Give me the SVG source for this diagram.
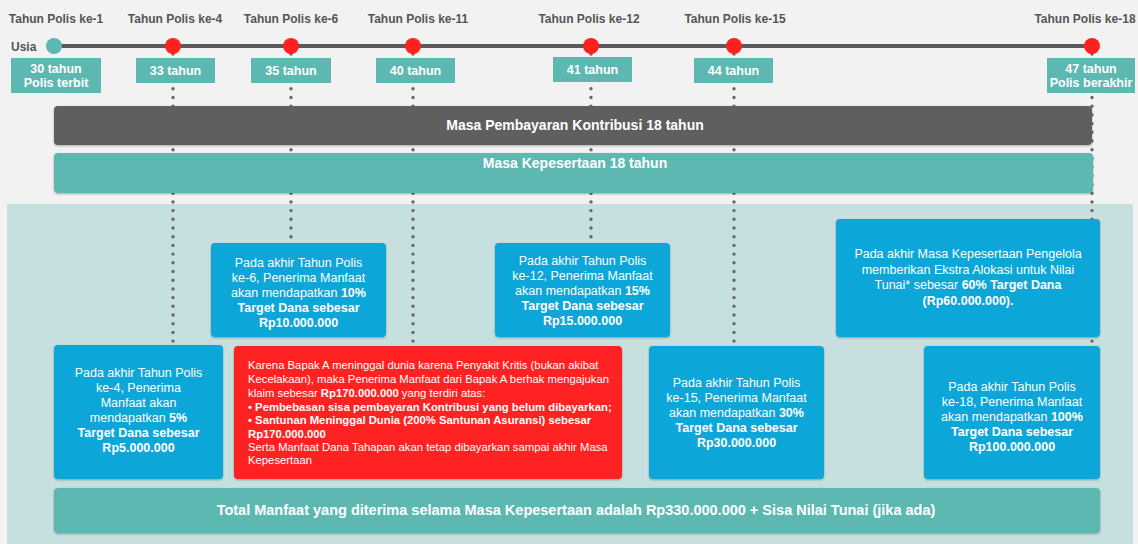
<svg xmlns="http://www.w3.org/2000/svg" width="1138" height="544" viewBox="0 0 1138 544">
<style>
text{font-family:"Liberation Sans",Arial,sans-serif;}
.tl{font-size:12px;font-weight:bold;fill:#555;text-anchor:middle;}
.age{font-size:12.5px;font-weight:bold;fill:#fff;text-anchor:middle;}
.agebox{fill:#5db8b1;}
.bar{font-size:14px;font-weight:bold;fill:#fff;text-anchor:middle;}
.bt{font-size:12.5px;fill:#fff;text-anchor:middle;}
.rt{font-size:11.3px;fill:#fff;}
.b{font-weight:bold;}
.blue{fill:#08a6d8;}
.dot{stroke:#666;stroke-width:3.4;stroke-linecap:round;stroke-dasharray:0 8.7;fill:none;}
</style>
<defs>
<filter id="sh" x="-5%" y="-5%" width="110%" height="115%">
<feDropShadow dx="0" dy="1" stdDeviation="0.8" flood-color="#000" flood-opacity="0.3"/>
</filter>
</defs>
<rect width="1138" height="544" fill="#f2f2f2"/>
<rect x="7" y="204" width="1126" height="340" fill="#c6e0df"/>

<g id="connectors">
<line class="dot" x1="173" y1="54" x2="173" y2="345"/>
<line class="dot" x1="291" y1="54" x2="291" y2="243"/>
<line class="dot" x1="413" y1="54" x2="413" y2="346"/>
<line class="dot" x1="591" y1="54" x2="591" y2="243"/>
<line class="dot" x1="734" y1="54" x2="734" y2="346"/>
<line class="dot" x1="1092" y1="54" x2="1092" y2="346"/>
</g>

<g id="timeline">
<line x1="54" y1="46" x2="1092" y2="46" stroke="#5a5a5a" stroke-width="4"/>
<text x="11" y="51" font-size="12" font-weight="bold" fill="#555">Usia</text>
</g>

<g id="year1"><text class="tl" x="56" y="23">Tahun Polis ke-1</text><circle cx="54" cy="46" r="8" fill="#5db8b1"/>
<rect class="agebox" x="11" y="58" width="90" height="35"/><text class="age" x="56" y="72.5">30 tahun</text><text class="age" x="56" y="86.5">Polis terbit</text></g>
<g id="year4"><text class="tl" x="175" y="23">Tahun Polis ke-4</text><circle cx="173" cy="46" r="8" fill="#ff2020"/>
<rect class="agebox" x="136" y="58" width="79" height="25"/><text class="age" x="175.5" y="75">33 tahun</text></g>
<g id="year6"><text class="tl" x="291" y="23">Tahun Polis ke-6</text><circle cx="291" cy="46" r="8" fill="#ff2020"/>
<rect class="agebox" x="251" y="58" width="80" height="25"/><text class="age" x="291" y="75">35 tahun</text></g>
<g id="year11"><text class="tl" x="418" y="23">Tahun Polis ke-11</text><circle cx="413" cy="46" r="8" fill="#ff2020"/>
<rect class="agebox" x="376" y="58" width="79" height="25"/><text class="age" x="415.5" y="75">40 tahun</text></g>
<g id="year12"><text class="tl" x="589" y="23">Tahun Polis ke-12</text><circle cx="591" cy="46" r="8" fill="#ff2020"/>
<rect class="agebox" x="553" y="57" width="79" height="25"/><text class="age" x="592.5" y="74">41 tahun</text></g>
<g id="year15"><text class="tl" x="735" y="23">Tahun Polis ke-15</text><circle cx="734" cy="46" r="8" fill="#ff2020"/>
<rect class="agebox" x="694" y="58" width="79" height="25"/><text class="age" x="733.5" y="75">44 tahun</text></g>
<g id="year18"><text class="tl" x="1085" y="23">Tahun Polis ke-18</text><circle cx="1092" cy="46" r="8" fill="#ff2020"/>
<rect class="agebox" x="1047" y="58" width="88" height="35"/><text class="age" x="1091" y="72.5">47 tahun</text><text class="age" x="1091" y="86.5">Polis berakhir</text></g>

<g id="bar-pembayaran"><rect x="54" y="106" width="1038" height="39" rx="4" fill="#5f5f5f" filter="url(#sh)"/>
<text class="bar" x="575" y="130">Masa Pembayaran Kontribusi 18 tahun</text></g>
<g id="bar-kepesertaan"><rect x="54" y="153" width="1039" height="40" rx="4" fill="#5db8b1" filter="url(#sh)"/>
<text class="bar" x="575" y="168">Masa Kepesertaan 18 tahun</text></g>

<g id="box-ke6"><rect class="blue" x="211" y="243" width="175" height="94" rx="4" filter="url(#sh)"/>
<text class="bt" x="298.5" y="266.5">Pada akhir Tahun Polis</text>
<text class="bt" x="298.5" y="281.5">ke-6, Penerima Manfaat</text>
<text class="bt" x="298.5" y="296.5">akan mendapatkan <tspan class="b">10%</tspan></text>
<text class="bt b" x="298.5" y="311.5">Target Dana sebesar</text>
<text class="bt b" x="298.5" y="326.5">Rp10.000.000</text></g>

<g id="box-ke12"><rect class="blue" x="495" y="243" width="175" height="94" rx="4" filter="url(#sh)"/>
<text class="bt" x="582.5" y="264.5">Pada akhir Tahun Polis</text>
<text class="bt" x="582.5" y="279.5">ke-12, Penerima Manfaat</text>
<text class="bt" x="582.5" y="294.5">akan mendapatkan <tspan class="b">15%</tspan></text>
<text class="bt b" x="582.5" y="309.5">Target Dana sebesar</text>
<text class="bt b" x="582.5" y="324.5">Rp15.000.000</text></g>

<g id="box-ekstra"><rect class="blue" x="836" y="219" width="264" height="118" rx="4" filter="url(#sh)"/>
<text class="bt" x="968" y="257.5">Pada akhir Masa Kepesertaan Pengelola</text>
<text class="bt" x="968" y="273.5">memberikan Ekstra Alokasi untuk Nilai</text>
<text class="bt" x="968" y="289">Tunai* sebesar <tspan class="b">60% Target Dana</tspan></text>
<text class="bt b" x="968" y="304.5">(Rp60.000.000).</text></g>

<g id="box-ke4"><rect class="blue" x="54" y="345" width="169" height="134" rx="4" filter="url(#sh)"/>
<text class="bt" x="138.5" y="376.5">Pada akhir Tahun Polis</text>
<text class="bt" x="138.5" y="391.5">ke-4, Penerima</text>
<text class="bt" x="138.5" y="406.5">Manfaat akan</text>
<text class="bt" x="138.5" y="421.5">mendapatkan <tspan class="b">5%</tspan></text>
<text class="bt b" x="138.5" y="436.5">Target Dana sebesar</text>
<text class="bt b" x="138.5" y="451.5">Rp5.000.000</text></g>

<g id="box-klaim"><rect x="234" y="346" width="388" height="133" rx="4" fill="#ff2020" filter="url(#sh)"/>
<text class="rt" x="248" y="369">Karena Bapak A meninggal dunia karena Penyakit Kritis (bukan akibat</text>
<text class="rt" x="248" y="383">Kecelakaan), maka Penerima Manfaat dari Bapak A berhak mengajukan</text>
<text class="rt" x="248" y="397">klaim sebesar <tspan class="b">Rp170.000.000</tspan> yang terdiri atas:</text>
<text class="rt b" x="248" y="410.5">• Pembebasan sisa pembayaran Kontribusi yang belum dibayarkan;</text>
<text class="rt b" x="248" y="424">• Santunan Meninggal Dunia (200% Santunan Asuransi) sebesar</text>
<text class="rt b" x="248" y="437.5">Rp170.000.000</text>
<text class="rt" x="248" y="451">Serta Manfaat Dana Tahapan akan tetap dibayarkan sampai akhir Masa</text>
<text class="rt" x="248" y="464">Kepesertaan</text></g>

<g id="box-ke15"><rect class="blue" x="649" y="346" width="175" height="133" rx="4" filter="url(#sh)"/>
<text class="bt" x="736.5" y="386.5">Pada akhir Tahun Polis</text>
<text class="bt" x="736.5" y="401.5">ke-15, Penerima Manfaat</text>
<text class="bt" x="736.5" y="416.5">akan mendapatkan <tspan class="b">30%</tspan></text>
<text class="bt b" x="736.5" y="431.5">Target Dana sebesar</text>
<text class="bt b" x="736.5" y="446.5">Rp30.000.000</text></g>

<g id="box-ke18"><rect class="blue" x="924" y="346" width="176" height="133" rx="4" filter="url(#sh)"/>
<text class="bt" x="1012" y="390.5">Pada akhir Tahun Polis</text>
<text class="bt" x="1012" y="405.5">ke-18, Penerima Manfaat</text>
<text class="bt" x="1012" y="421">akan mendapatkan <tspan class="b">100%</tspan></text>
<text class="bt b" x="1012" y="436">Target Dana sebesar</text>
<text class="bt b" x="1012" y="451">Rp100.000.000</text></g>

<g id="bar-total"><rect x="54" y="488" width="1046" height="45" rx="4" fill="#5db8b1" filter="url(#sh)"/>
<text class="bar" x="576" y="515" font-size="14.5" style="font-size:14.5px">Total Manfaat yang diterima selama Masa Kepesertaan adalah Rp330.000.000 + Sisa Nilai Tunai (jika ada)</text></g>
</svg>
